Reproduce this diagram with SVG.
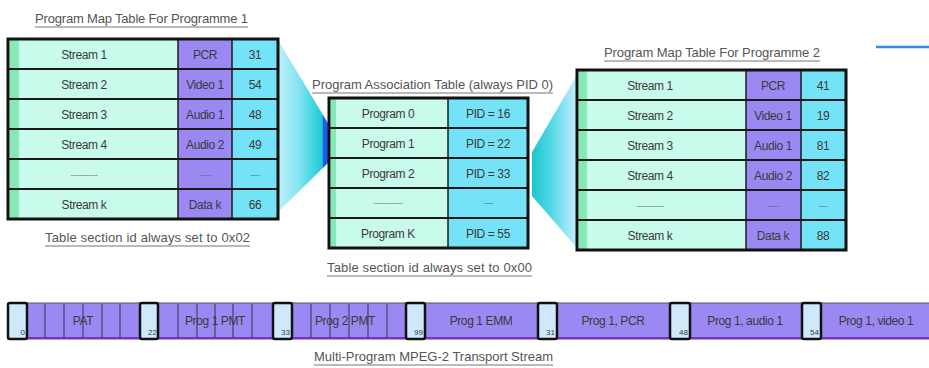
<svg xmlns="http://www.w3.org/2000/svg" width="929" height="368" viewBox="0 0 929 368">
<defs>
<linearGradient id="gL" x1="0" y1="0" x2="1" y2="0">
<stop offset="0" stop-color="#bdf0f9"/>
<stop offset="0.4" stop-color="#86e4f3"/>
<stop offset="0.7" stop-color="#3fd4df"/>
<stop offset="0.87" stop-color="#22c8d2"/>
<stop offset="0.88" stop-color="#1a5ef0"/>
<stop offset="1" stop-color="#1a5ef0"/>
</linearGradient>
<linearGradient id="gR" x1="0" y1="0" x2="1" y2="0">
<stop offset="0" stop-color="#1cc6cc"/>
<stop offset="0.4" stop-color="#4fd6e4"/>
<stop offset="0.75" stop-color="#94e4f4"/>
<stop offset="1" stop-color="#c4eefa"/>
</linearGradient>
<style>
text{font-family:"Liberation Sans",Arial,sans-serif;fill:#3a3a3a}
.t{font-size:13px;fill:#555}
.c{font-size:12px;text-anchor:middle;letter-spacing:-0.4px}
.s{font-size:8px;text-anchor:end}
.mint{fill:#c9fbec}
.strip{fill:#84eab6}
.pur{fill:#9c88f3}
.cy{fill:#74e2f7}
.frame{fill:none;stroke:#111;stroke-width:3}
.hl{stroke:#1a1a1a;stroke-width:2}
.vl{stroke:#1a1a1a;stroke-width:1.5}
.ul{stroke:#777;stroke-width:1.2}
.pkt{fill:#cfe9fb;stroke:#111;stroke-width:2.5}
.div{stroke:#44406a;stroke-width:1.2}
</style>
</defs>
<rect width="929" height="368" fill="#fff"/>

<g id="connectors">
<polygon points="278,40 329,125 329,162 278,212" fill="url(#gL)"/>
<polygon points="532,152 577,75 577,248 532,196" fill="url(#gR)"/>
<line x1="876" y1="47" x2="929" y2="47" stroke="#2f8fe6" stroke-width="2.5"/>
</g>

<g id="pmt1">
<text class="t" x="35" y="23" textLength="213">Program Map Table For Programme 1</text>
<line class="ul" x1="35" y1="27" x2="248" y2="27"/>
<rect class="mint" x="8" y="39" width="170" height="180"/>
<rect class="strip" x="10" y="39" width="9" height="180"/>
<rect class="pur" x="178" y="39" width="54" height="180"/>
<rect class="cy" x="232" y="39" width="46" height="180"/>
<g class="hl">
<line x1="8" y1="69" x2="278" y2="69"/><line x1="8" y1="99" x2="278" y2="99"/>
<line x1="8" y1="129" x2="278" y2="129"/><line x1="8" y1="159" x2="278" y2="159"/>
<line x1="8" y1="189" x2="278" y2="189"/>
</g>
<line class="vl" x1="178" y1="39" x2="178" y2="219"/>
<line class="vl" x1="232" y1="39" x2="232" y2="219"/>
<rect class="frame" x="8" y="39" width="270" height="180"/>
<g class="c">
<text class="c" x="84" y="59">Stream 1</text><text class="c" x="205" y="59">PCR</text><text class="c" x="255" y="59">31</text>
<text class="c" x="84" y="89">Stream 2</text><text class="c" x="205" y="89">Video 1</text><text class="c" x="255" y="89">54</text>
<text class="c" x="84" y="119">Stream 3</text><text class="c" x="205" y="119">Audio 1</text><text class="c" x="255" y="119">48</text>
<text class="c" x="84" y="149">Stream 4</text><text class="c" x="205" y="149">Audio 2</text><text class="c" x="255" y="149">49</text>
<text class="c" x="84" y="177" style="font-size:8px;fill:#666">------------</text><text class="c" x="205" y="177" style="font-size:8px;fill:#666">-----</text><text class="c" x="255" y="177" style="font-size:8px;fill:#666">----</text>
<text class="c" x="84" y="209">Stream k</text><text class="c" x="205" y="209">Data k</text><text class="c" x="255" y="209">66</text>
</g>
<text class="t" x="45" y="242" textLength="205">Table section id always set to 0x02</text>
<line class="ul" x1="45" y1="246" x2="250" y2="246"/>
</g>

<g id="pat">
<text class="t" x="312" y="89" textLength="241">Program Association Table (always PID 0)</text>
<line class="ul" x1="312" y1="93" x2="553" y2="93"/>
<rect class="mint" x="329" y="98" width="119" height="150"/>
<rect class="strip" x="331" y="98" width="5" height="150"/>
<rect class="cy" x="448" y="98" width="80" height="150"/>
<g class="hl">
<line x1="329" y1="128" x2="528" y2="128"/><line x1="329" y1="158" x2="528" y2="158"/>
<line x1="329" y1="188" x2="528" y2="188"/><line x1="329" y1="218" x2="528" y2="218"/>
</g>
<line class="vl" x1="448" y1="98" x2="448" y2="248"/>
<rect class="frame" x="329" y="98" width="199" height="150"/>
<text class="c" x="388" y="118">Program 0</text><text class="c" x="488" y="118">PID = 16</text>
<text class="c" x="388" y="148">Program 1</text><text class="c" x="488" y="148">PID = 22</text>
<text class="c" x="388" y="178">Program 2</text><text class="c" x="488" y="178">PID = 33</text>
<text class="c" x="388" y="205" style="font-size:8px;fill:#666">-------------</text><text class="c" x="488" y="205" style="font-size:8px;fill:#666">----</text>
<text class="c" x="388" y="238">Program K</text><text class="c" x="488" y="238">PID = 55</text>
<text class="t" x="327" y="272" textLength="205">Table section id always set to 0x00</text>
<line class="ul" x1="327" y1="276" x2="532" y2="276"/>
</g>

<g id="pmt2">
<text class="t" x="604" y="57" textLength="216">Program Map Table For Programme 2</text>
<line class="ul" x1="604" y1="61" x2="820" y2="61"/>
<rect class="mint" x="577" y="70" width="169" height="180"/>
<rect class="strip" x="579" y="70" width="8" height="180"/>
<rect class="pur" x="746" y="70" width="55" height="180"/>
<rect class="cy" x="801" y="70" width="45" height="180"/>
<g class="hl">
<line x1="577" y1="100" x2="846" y2="100"/><line x1="577" y1="130" x2="846" y2="130"/>
<line x1="577" y1="160" x2="846" y2="160"/><line x1="577" y1="190" x2="846" y2="190"/>
<line x1="577" y1="220" x2="846" y2="220"/>
</g>
<line class="vl" x1="746" y1="70" x2="746" y2="250"/>
<line class="vl" x1="801" y1="70" x2="801" y2="250"/>
<rect class="frame" x="577" y="70" width="269" height="180"/>
<text class="c" x="650" y="90">Stream 1</text><text class="c" x="773" y="90">PCR</text><text class="c" x="823" y="90">41</text>
<text class="c" x="650" y="120">Stream 2</text><text class="c" x="773" y="120">Video 1</text><text class="c" x="823" y="120">19</text>
<text class="c" x="650" y="150">Stream 3</text><text class="c" x="773" y="150">Audio 1</text><text class="c" x="823" y="150">81</text>
<text class="c" x="650" y="180">Stream 4</text><text class="c" x="773" y="180">Audio 2</text><text class="c" x="823" y="180">82</text>
<text class="c" x="650" y="208" style="font-size:8px;fill:#666">------------</text><text class="c" x="773" y="208" style="font-size:8px;fill:#666">-----</text><text class="c" x="823" y="208" style="font-size:8px;fill:#666">----</text>
<text class="c" x="650" y="240">Stream k</text><text class="c" x="773" y="240">Data k</text><text class="c" x="823" y="240">88</text>
</g>

<g id="transport-stream">
<rect x="8" y="303" width="925" height="36" fill="#9c88f3" stroke="#555" stroke-width="1"/>
<line x1="8" y1="338" x2="929" y2="338" stroke="#7a2fd6" stroke-width="2"/>
<g class="div">
<line x1="45" y1="304" x2="45" y2="338"/><line x1="64" y1="304" x2="64" y2="338"/><line x1="83" y1="304" x2="83" y2="338"/><line x1="102" y1="304" x2="102" y2="338"/><line x1="120" y1="304" x2="120" y2="338"/>
<line x1="178" y1="304" x2="178" y2="338"/><line x1="197" y1="304" x2="197" y2="338"/><line x1="215" y1="304" x2="215" y2="338"/><line x1="233" y1="304" x2="233" y2="338"/><line x1="252" y1="304" x2="252" y2="338"/>
<line x1="311" y1="304" x2="311" y2="338"/><line x1="330" y1="304" x2="330" y2="338"/><line x1="349" y1="304" x2="349" y2="338"/><line x1="368" y1="304" x2="368" y2="338"/><line x1="387" y1="304" x2="387" y2="338"/>
</g>
<rect class="pkt" x="8" y="303" width="19" height="36" rx="2"/>
<rect class="pkt" x="140" y="303" width="18" height="36" rx="2"/>
<rect class="pkt" x="273" y="303" width="19" height="36" rx="2"/>
<rect class="pkt" x="406" y="303" width="19" height="36" rx="2"/>
<rect class="pkt" x="538" y="303" width="19" height="36" rx="2"/>
<rect class="pkt" x="670" y="303" width="20" height="36" rx="2"/>
<rect class="pkt" x="802" y="303" width="19" height="36" rx="2"/>
<text class="s" x="25" y="335">0</text>
<text class="s" x="157" y="335">22</text>
<text class="s" x="290" y="335">33</text>
<text class="s" x="423" y="335">99</text>
<text class="s" x="555" y="335">31</text>
<text class="s" x="688" y="335">48</text>
<text class="s" x="819" y="335">54</text>
<text class="c" x="83" y="325">PAT</text>
<text class="c" x="215" y="325">Prog 1 PMT</text>
<text class="c" x="345" y="325">Prog 2 PMT</text>
<text class="c" x="481" y="325">Prog 1 EMM</text>
<text class="c" x="613" y="325">Prog 1, PCR</text>
<text class="c" x="745" y="325">Prog 1, audio 1</text>
<text class="c" x="876" y="325">Prog 1, video 1</text>
<text class="t" x="314" y="361" textLength="239">Multi-Program MPEG-2 Transport Stream</text>
<line class="ul" x1="314" y1="365" x2="553" y2="365"/>
</g>
</svg>
